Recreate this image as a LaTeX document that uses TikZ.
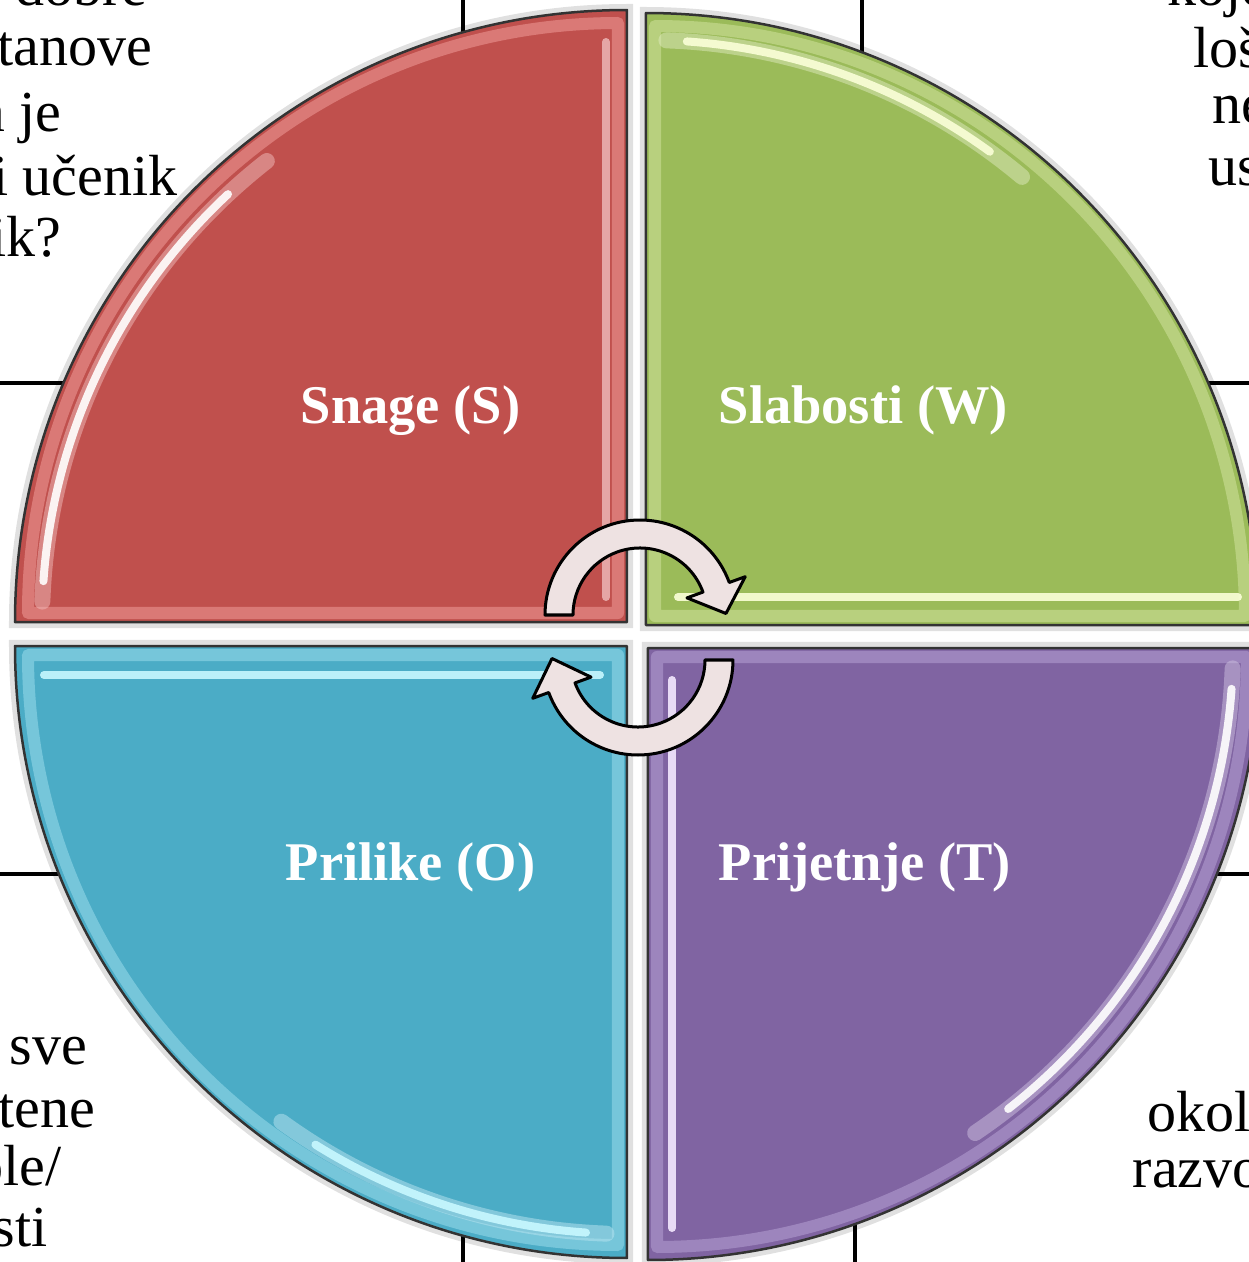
\documentclass[tikz,border=0pt]{standalone}
\usepackage{fontspec}
\setmainfont{Liberation Serif}
\usetikzlibrary{calc}
\definecolor{redF}{HTML}{C0504D}
\definecolor{redL}{HTML}{E8908D}
\definecolor{redH}{HTML}{FFE0E0}
\definecolor{greenF}{HTML}{9BBB59}
\definecolor{greenL}{HTML}{C8DC92}
\definecolor{greenH}{HTML}{FBFFD8}
\definecolor{blueF}{HTML}{4BACC6}
\definecolor{blueL}{HTML}{8ED4E6}
\definecolor{blueH}{HTML}{C8F8FF}
\definecolor{purpleF}{HTML}{8064A2}
\definecolor{purpleL}{HTML}{AE98CC}
\definecolor{purpleH}{HTML}{F4E8FF}
\definecolor{arrowF}{HTML}{EEE2E2}
\tikzset{
  tableline/.style={line width=0.035cm, black},
  quadbox/.style={draw=black!80, line width=0.025cm, line join=round},
  shadowline/.style={draw=black, line width=0.12cm, opacity=0.12},
  bevel/.style={line width=0.12cm, opacity=0.65, line join=round},
  streak/.style={line width=0.08cm, line cap=round, opacity=0.9},
  softstreak/.style={line width=0.16cm, line cap=round, opacity=0.5},
  quadlabel/.style={text=white, font=\fontsize{15.5}{18}\selectfont\bfseries, inner sep=0pt},
  bodytext/.style={font=\fontsize{16.5}{19}\selectfont, inner sep=0pt},
  arrowshape/.style={fill=arrowF, draw=black, line width=0.03cm, line join=round}
}
\begin{document}
\begin{tikzpicture}[x=0.01cm, y=0.01cm]
\useasboundingbox (0,0) rectangle (1249,1262);
\fill[white] (0,0) rectangle (1249,1262);

% table lines behind the diagram
\draw[tableline] (463,0) -- (463,1262);
\draw[tableline] (862,1262) -- (862,631);
\draw[tableline] (855,631) -- (855,0);
\draw[tableline] (0,879) -- (1249,879);
\draw[tableline] (0,388) -- (1249,388);

% white gaps between quadrants
\fill[white] (622,20) rectangle (653,1245);
\fill[white] (20,610) rectangle (1245,645);

% shadows
\path[shadowline] (627,640) -- (15,640) arc[start angle=180, end angle=90, radius=612] -- cycle;
\path[shadowline] (646,637) -- (646,1249) arc[start angle=90, end angle=0, radius=612] -- cycle;
\path[shadowline] (627,616) -- (15,616) arc[start angle=180, end angle=270, radius=612] -- cycle;
\path[shadowline] (648,614) -- (1260,614) arc[start angle=0, end angle=-90, radius=612] -- cycle;

% red quadrant (S)
\fill[redF] (627,640) -- (15,640) arc[start angle=180, end angle=90, radius=612] -- cycle;
\draw[bevel, redL] (618,649) -- (28,649) arc[start angle=180, end angle=90, radius=590] -- cycle;
\draw[softstreak, redL!60!white] (627,640) ++(178:585) arc[start angle=178, end angle=128, radius=585];
\draw[streak, white] (627,640) ++(176:585) arc[start angle=176, end angle=133, radius=585];
\draw[streak, redH, opacity=0.6] (606,1220) -- (606,665);
\draw[quadbox] (627,640) -- (15,640) arc[start angle=180, end angle=90, radius=612] -- cycle;

% green quadrant (W)
\fill[greenF] (646,637) -- (646,1249) arc[start angle=90, end angle=0, radius=612] -- cycle;
\draw[bevel, greenL] (655,646) -- (655,1236) arc[start angle=90, end angle=0, radius=590] -- cycle;
\draw[softstreak, greenL!60!white] (646,637) ++(88:585) arc[start angle=88, end angle=50, radius=585];
\draw[streak, greenH] (646,637) ++(86:585) arc[start angle=86, end angle=54, radius=585];
\draw[streak, greenH] (678,665) -- (1238,665);
\draw[quadbox] (646,637) -- (646,1249) arc[start angle=90, end angle=0, radius=612] -- cycle;

% blue quadrant (O)
\fill[blueF] (627,616) -- (15,616) arc[start angle=180, end angle=270, radius=612] -- cycle;
\draw[bevel, blueL] (618,607) -- (28,607) arc[start angle=180, end angle=270, radius=590] -- cycle;
\draw[streak, blueH] (44,587) -- (600,587);
\draw[softstreak, blueL!60!white] (627,616) ++(234:588) arc[start angle=234, end angle=268, radius=588];
\draw[streak, blueH] (627,616) ++(238:588) arc[start angle=238, end angle=266, radius=588];
\draw[quadbox] (627,616) -- (15,616) arc[start angle=180, end angle=270, radius=612] -- cycle;

% purple quadrant (T)
\fill[purpleF] (648,614) -- (1260,614) arc[start angle=0, end angle=-90, radius=612] -- cycle;
\draw[bevel, purpleL] (657,605) -- (1247,605) arc[start angle=0, end angle=-90, radius=590] -- cycle;
\draw[streak, purpleH] (672,582) -- (672,34);
\draw[softstreak, purpleL!60!white] (648,614) ++(-2:585) arc[start angle=-2, end angle=-56, radius=585];
\draw[streak, white] (648,614) ++(-4:585) arc[start angle=-4, end angle=-52, radius=585];
\draw[quadbox] (648,614) -- (1260,614) arc[start angle=0, end angle=-90, radius=612] -- cycle;

% labels
\node[quadlabel, anchor=base west] (lS) at (300,839) {Snage (S)};
\node[quadlabel, anchor=base west] (lW) at (718,839) {Slabosti (W)};
\node[quadlabel, anchor=base west] (lO) at (285,382) {Prilike (O)};
\node[quadlabel, anchor=base west] (lT) at (718,382) {Prijetnje (T)};

% circular arrows
\coordinate (c1) at (640,647);
\coordinate (c2) at (638,602);
\draw[arrowshape] ($(c1)+(180:95)$) arc[start angle=180, end angle=20, radius=95]
  -- ($(c1)+(20:112)$) -- ($(c1)+(1:86)$) -- ($(c1)+(20:50)$) -- ($(c1)+(20:67)$)
  arc[start angle=20, end angle=180, radius=67] -- cycle;
\draw[arrowshape] ($(c2)+(0:95)$) arc[start angle=0, end angle=-160, radius=95]
  -- ($(c2)+(-160:112)$) -- ($(c2)+(179:86)$) -- ($(c2)+(-160:50)$) -- ($(c2)+(-160:67)$)
  arc[start angle=-160, end angle=0, radius=67] -- cycle;

% surrounding table text (cut off at the edges)
\node[bodytext, anchor=base east] (tl1) at (148,1257) {su dobre};
\node[bodytext, anchor=base east] (tl2) at (153,1196) {ustanove};
\node[bodytext, anchor=base east] (tl3) at (62,1130) {koja je};
\node[bodytext, anchor=base east] (tl4) at (178,1067) {koji učenik};
\node[bodytext, anchor=base east] (tl5) at (62,1005) {učenik?};
\node[bodytext, anchor=base west] (tr1) at (1167,1257) {koje};
\node[bodytext, anchor=base west] (tr2) at (1193,1195) {loše};
\node[bodytext, anchor=base west] (tr3) at (1212,1139) {nedostaci};
\node[bodytext, anchor=base west] (tr4) at (1208,1077) {uspjeh};
\node[bodytext, anchor=base east] (bl1) at (88,197) {sve};
\node[bodytext, anchor=base east] (bl2) at (96,135) {iskorištene};
\node[bodytext, anchor=base east] (bl3) at (62,77) {škole/};
\node[bodytext, anchor=base east] (bl4) at (48,15) {mogućnosti};
\node[bodytext, anchor=base west] (br1) at (1147,130) {okoline};
\node[bodytext, anchor=base west] (br2) at (1132,74) {razvoj};
\end{tikzpicture}
\end{document}
